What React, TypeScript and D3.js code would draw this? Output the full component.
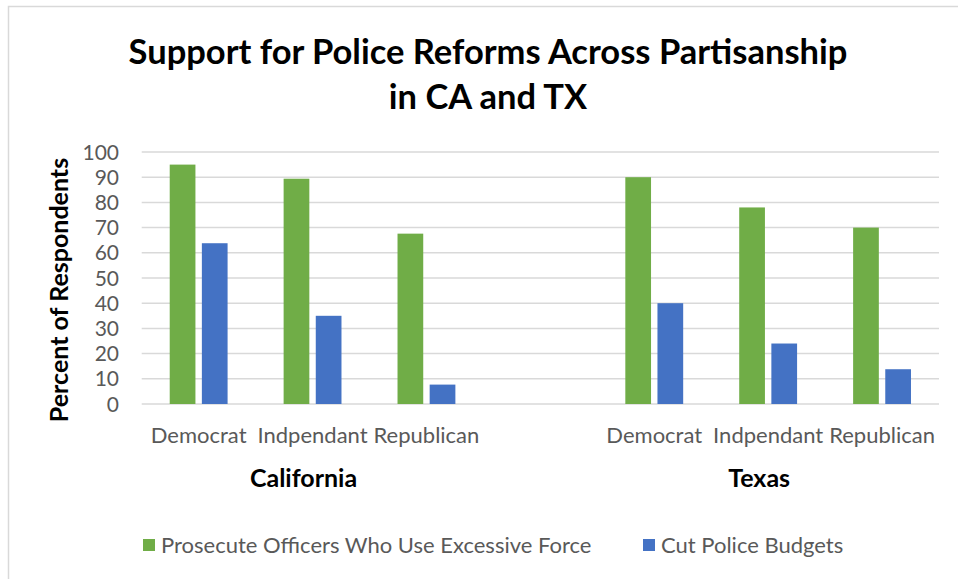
import React from "react";
import * as d3 from "d3";

const title = ["Support for Police Reforms Across Partisanship", "in CA and TX"];
const states = ["California", "Texas"];
const parties = ["Democrat", "Indpendant", "Republican"];
const seriesNames = ["Prosecute Officers Who Use Excessive Force", "Cut Police Budgets"];
const prosecuteCA = [95, 89.4, 67.6];
const prosecuteTX = [90, 78, 70];
const cutCA = [63.8, 35, 7.7];
const cutTX = [40, 24, 13.8];
const yTicks = [0, 10, 20, 30, 40, 50, 60, 70, 80, 90, 100];
const yLabel = "Percent of Respondents";

const colors = ["#70ad47", "#4472c4"];
const W = 958;
const H = 579;
const FONT = "Lato, 'Open Sans', sans-serif";

type Row = { key: string; state: string; party: string; values: number[] };

const rows: Row[] = [];
parties.forEach((p, i) => rows.push({ key: `CA-${p}`, state: states[0], party: p, values: [prosecuteCA[i], cutCA[i]] }));
const gapKey = "gap";
parties.forEach((p, i) => rows.push({ key: `TX-${p}`, state: states[1], party: p, values: [prosecuteTX[i], cutTX[i]] }));

export default function App() {
  const left = 141.7;
  const right = 939;
  const top = 152;
  const bottom = 404;
  const domain = [...rows.slice(0, 3).map(r => r.key), gapKey, ...rows.slice(3).map(r => r.key)];
  const x0 = d3.scaleBand<string>().domain(domain).range([left, right]).paddingInner(0).paddingOuter(0);
  const bw = x0.bandwidth();
  const x1 = d3.scaleBand<number>().domain([0, 1]).range([bw * 0.246, bw * 0.754]).paddingInner(0.2);
  const y = d3.scaleLinear().domain([0, 100]).range([bottom, top]);

  const groupCenter = (s: string) => {
    const rs = rows.filter(r => r.state === s);
    const a = x0(rs[0].key)!;
    const b = x0(rs[rs.length - 1].key)! + bw;
    return (a + b) / 2;
  };

  return (
    <svg width={W} height={H} style={{ position: "absolute", left: 0, top: 0, background: "#fff" }} fontFamily={FONT}>
      <rect x={0} y={0} width={W} height={H} fill="#fff" />
      <rect x={8.5} y={6.5} width={W + 20} height={H + 20} fill="none" stroke="#d9d9d9" strokeWidth={1.5} />
      {title.map((t, i) => (
        <text key={i} x={488} y={64 + i * 45} textAnchor="middle" fontSize={34.5} fontWeight="bold" fill="#000">{t}</text>
      ))}
      {yTicks.map(t => (
        <g key={t}>
          <line x1={left} x2={right} y1={y(t)} y2={y(t)} stroke="#d9d9d9" strokeWidth={1.5} />
          <text x={119} y={y(t)} dy="0.36em" textAnchor="end" fontSize={21} fill="#595959">{t}</text>
        </g>
      ))}
      <text transform={`translate(68,${(top + bottom) / 2 + 12}) rotate(-90)`} textAnchor="middle" fontSize={25} fontWeight="bold" fill="#000">{yLabel}</text>
      {rows.map(r => (
        <g key={r.key} transform={`translate(${x0(r.key)},0)`}>
          {r.values.map((v, j) => (
            <rect key={j} x={x1(j)} y={y(v)} width={x1.bandwidth()} height={y(0) - y(v)} fill={colors[j]} />
          ))}
          <text x={bw / 2} y={443} textAnchor="middle" fontSize={22} fill="#595959">{r.party}</text>
        </g>
      ))}
      {states.map(s => (
        <text key={s} x={groupCenter(s) - 9} y={487} textAnchor="middle" fontSize={25} fontWeight="bold" fill="#000">{s}</text>
      ))}
      {seriesNames.map((n, i) => {
        const lx = [143, 643][i];
        return (
          <g key={n}>
            <rect x={lx} y={539} width={12} height={12} fill={colors[i]} />
            <text x={lx + 18} y={553} fontSize={22} fill="#595959">{n}</text>
          </g>
        );
      })}
    </svg>
  );
}
